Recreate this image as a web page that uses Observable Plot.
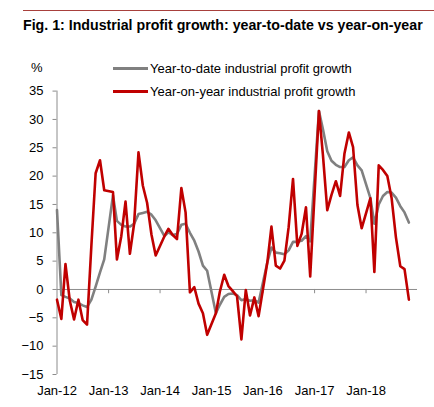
<!DOCTYPE html>
<html>
<head>
<meta charset="utf-8">
<script src="https://cdn.jsdelivr.net/npm/d3@7"></script>
<script src="https://cdn.jsdelivr.net/npm/@observablehq/plot@0.6"></script>
<style>
  body { margin: 0; background: #fff; font-family: "Liberation Sans", Arial, sans-serif; color: #000; }
  #wrap { position: relative; width: 434px; height: 407px; overflow: hidden; }
  #rule { position: absolute; left: 23px; top: 10px; width: 411px; border-top: 1px solid #a8403c; }
  #title { position: absolute; left: 23px; top: 17px; font-weight: bold; font-size: 14.2px; white-space: nowrap; }
  #chart { position: absolute; left: 0; top: 40px; }
  #unit { position: absolute; left: 31px; top: 60px; font-size: 13px; }
  .leg { position: absolute; left: 113px; font-size: 13px; white-space: nowrap; display: flex; align-items: center; height: 16px; }
  .leg .sw { display: inline-block; width: 35px; height: 3px; margin-right: 2px; }
</style>
</head>
<body>
<div id="wrap">
  <div id="rule"></div>
  <div id="title">Fig. 1: Industrial profit growth: year-to-date vs year-on-year</div>
  <div id="chart"></div>
  <div id="unit">%</div>
  <div class="leg" style="top:60px"><span class="sw" style="background:#808080"></span>Year-to-date industrial profit growth</div>
  <div class="leg" style="top:83px"><span class="sw" style="background:#c00000"></span>Year-on-year industrial profit growth</div>
</div>
<script>
// months with data (January is reported together with February after 2012)
const months = [
  "2012-01","2012-02","2012-03","2012-04","2012-05","2012-06","2012-07","2012-08","2012-09","2012-10","2012-11","2012-12",
  "2013-02","2013-03","2013-04","2013-05","2013-06","2013-07","2013-08","2013-09","2013-10","2013-11","2013-12",
  "2014-02","2014-03","2014-04","2014-05","2014-06","2014-07","2014-08","2014-09","2014-10","2014-11","2014-12",
  "2015-02","2015-03","2015-04","2015-05","2015-06","2015-07","2015-08","2015-09","2015-10","2015-11","2015-12",
  "2016-02","2016-03","2016-04","2016-05","2016-06","2016-07","2016-08","2016-09","2016-10","2016-11","2016-12",
  "2017-02","2017-03","2017-04","2017-05","2017-06","2017-07","2017-08","2017-09","2017-10","2017-11","2017-12",
  "2018-02","2018-03","2018-04","2018-05","2018-06","2018-07","2018-08","2018-09","2018-10","2018-11"
]

const ytd = [
  14.0, -1.0, -1.3, -1.6, -2.2, -2.4, -2.8, -3.1, -1.8, 0.5, 3.0, 5.3,
  16.6, 12.1, 11.4, 11.1, 11.1, 11.6, 13.3, 13.5, 13.7, 13.2, 12.2,
  9.4, 10.1, 9.6, 9.8, 11.4, 11.6, 10.0, 8.6, 6.7, 4.2, 3.3,
  -4.2, -2.7, -1.3, -0.8, -0.7, -1.0, -1.9, -1.7, -2.0, -1.9, -2.3,
  4.8, 7.4, 6.5, 6.4, 6.2, 6.9, 8.4, 8.4, 8.6, 9.4, 8.5,
  31.5, 28.3, 24.4, 22.7, 22.0, 21.6, 21.6, 22.8, 23.3, 21.9, 21.0,
  16.1, 11.6, 15.0, 16.5, 17.2, 17.1, 16.2, 14.7, 13.6, 11.8
]

const yoy = [
  -1.8, -5.2, 4.5, -2.0, -5.3, -1.8, -5.4, -6.2, 7.8, 20.5, 22.8, 17.5,
  17.2, 5.3, 9.4, 15.5, 6.3, 11.6, 24.2, 18.3, 15.3, 9.7, 6.0,
  9.4, 10.7, 9.6, 8.9, 17.9, 13.6, -0.5, 0.4, -2.5, -4.2, -8.0,
  -4.2, -0.4, 2.6, 0.6, -0.3, -1.2, -8.8, -0.1, -4.6, -1.4, -4.7,
  4.8, 11.1, 4.2, 3.7, 5.1, 11.0, 19.5, 7.7, 9.8, 14.5, 2.3,
  31.5, 23.8, 14.0, 16.7, 19.1, 16.5, 24.0, 27.7, 25.1, 14.9, 10.8,
  16.1, 3.1, 21.9, 21.1, 20.0, 16.2, 9.2, 4.1, 3.6, -1.8
]

const yTicks = [-15, -10, -5, 0, 5, 10, 15, 20, 25, 30, 35]
const xTicks = ["2012-01","2013-01","2014-01","2015-01","2016-01","2017-01","2018-01"]

const parse = d3.utcParse("%Y-%m")
const rows = months.map((m, i) => ({date: parse(m), ytd: ytd[i], yoy: yoy[i]}))
const tickDates = xTicks.map(parse)
const start = parse("2012-01")

const chart = Plot.plot({
  width: 434,
  height: 367,
  marginTop: 50.6,
  marginBottom: 33,
  marginLeft: 56.5,
  marginRight: 17,
  style: {fontFamily: "Liberation Sans, Arial, sans-serif", fontSize: "13px", color: "#000", background: "transparent"},
  x: {type: "utc", domain: [start, parse("2019-01")]},
  y: {domain: [-15, 35]},
  marks: [
    Plot.ruleY([0], {x1: start, x2: parse("2018-11-20"), stroke: "#8c8c8c", strokeWidth: 1}),
    Plot.ruleX(tickDates.slice(1), {y1: 0, y2: -0.75, stroke: "#8c8c8c"}),
    Plot.ruleX([start], {y1: -15, y2: 35, stroke: "#8c8c8c"}),
    Plot.axisY({ticks: yTicks, tickSize: 4, tickPadding: 9.5, stroke: "#8c8c8c", fill: "#000", label: null}),
    Plot.axisX({ticks: tickDates, tickFormat: d3.utcFormat("%b-%y"), tickSize: 0, tickPadding: 11, fill: "#000", label: null}),
    Plot.line(rows, {x: "date", y: "ytd", stroke: "#808080", strokeWidth: 2.6}),
    Plot.line(rows, {x: "date", y: "yoy", stroke: "#c00000", strokeWidth: 2.6})
  ]
})

d3.select("#chart").append(() => chart)
</script>
</body>
</html>
